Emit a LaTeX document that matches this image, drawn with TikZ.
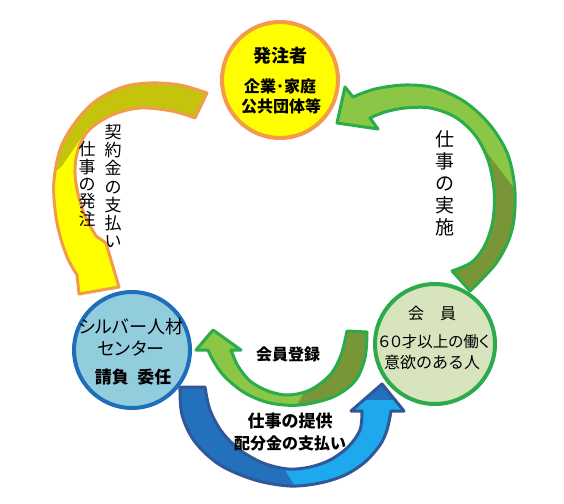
\documentclass[tikz,border=0pt]{standalone}
\usepackage{fontspec}
\setmainfont{Noto Sans CJK JP}
\newfontfamily\jp{Noto Sans CJK JP}
\newfontfamily\jpp{Noto Sans CJK JP}[RawFeature=+palt]
\definecolor{yel}{RGB}{255,255,0}
\definecolor{orl}{RGB}{242,155,75}
\definecolor{oliv}{RGB}{196,196,12}
\definecolor{grl}{RGB}{42,172,75}
\definecolor{lgr}{RGB}{140,198,70}
\definecolor{dgr}{RGB}{120,150,55}
\definecolor{dbl}{RGB}{35,112,188}
\definecolor{cbl}{RGB}{30,168,238}
\definecolor{bll}{RGB}{48,88,150}
\definecolor{bcf}{RGB}{146,205,222}
\definecolor{bcl}{RGB}{30,110,185}
\definecolor{gcf}{RGB}{215,228,190}
\definecolor{gcl}{RGB}{45,170,75}
\tikzset{
  circ/.style={circle, line width=4pt, minimum size=#1, inner sep=0pt},
  txt/.style={inner sep=0pt, align=center},
  outl/.style={line width=3pt, line join=round}
}
\newcommand\pA{plot[smooth,tension=0.55] coordinates {(207,93) (180,85) (150,83) (123,87) (97,100) (77,120) (61,147) (54,180) (55,210) (60,236) (68,259) (77,275)}
  -- (79,294) -- (119,287) -- (106,243)
  -- plot[smooth,tension=0.55] coordinates {(96,236) (86,218) (79,198) (75,173) (78,150) (89,130) (112,115) (140,108) (172,111) (195,118)} -- cycle}
\newcommand\pB{plot[smooth,tension=0.55] coordinates {(470,291) (497,262) (512,230) (515,192) (508,155) (490,125) (465,102) (435,88) (405,85) (375,89) (353,97)}
  -- (345,87) -- (337,123) -- (378,129)
  -- plot[smooth,tension=0.55] coordinates {(370,118) (385,112) (405,108) (430,108) (455,117) (475,135) (488,160) (494,190) (493,220) (485,245) (472,262) (452,271)} -- cycle}
\newcommand\pC{plot[smooth,tension=0.55] coordinates {(367,332) (365,358) (355,381) (333,397) (300,405) (270,403) (245,393) (225,377) (214,362) (208,350)}
  -- (196,350) -- (213,330) -- (241,350)
  -- plot[smooth,tension=0.55] coordinates {(231,350) (238,366) (250,381) (268,391) (288,395) (310,390) (330,375) (341,355) (347,331)} -- cycle}
\newcommand\pD{plot[smooth,tension=0.55] coordinates {(180,387) (182,415) (195,442) (220,465) (255,480) (290,486) (320,483) (345,475) (365,462) (380,445) (387,430) (391,411)}
  -- (404,411) -- (382,384) -- (351,411)
  -- plot[smooth,tension=0.55] coordinates {(362,411) (360,430) (348,447) (330,460) (310,467) (288,469) (263,463) (240,450) (222,432) (210,410) (205,387)} -- cycle}
\begin{document}
\begin{tikzpicture}[x=1pt,y=-1pt]
\useasboundingbox (0,0) rectangle (564,503);
% arrow 1 (yellow)
\begin{scope}
  \clip \pA;
  \fill[yel] (0,0) rectangle (564,503);
  \fill[oliv] (40,185) -- (62,166) -- (88,128) -- (230,128) -- (230,60) -- (40,60) -- cycle;
\end{scope}
\draw[outl, orl] \pA;
% arrow 2 (green right)
\begin{scope}
  \clip \pB;
  \fill[lgr] (0,0) rectangle (564,503);
  \fill[dgr] (462,120) -- (520,196) -- (520,300) -- (430,300) -- (430,120) -- cycle;
\end{scope}
\draw[outl, grl] \pB;
% arrow 3 (green bottom)
\begin{scope}
  \clip \pC;
  \fill[lgr] (0,0) rectangle (564,503);
  \fill[dgr] (292,415) -- (308,385) -- (330,300) -- (400,300) -- (400,415) -- cycle;
\end{scope}
\draw[outl, grl] \pC;
% arrow 4 (blue bottom)
\begin{scope}
  \clip \pD;
  \fill[dbl] (0,0) rectangle (564,503);
  \fill[cbl] (300,495) -- (282,465) -- (300,400) -- (420,400) -- (420,495) -- cycle;
\end{scope}
\draw[outl, bll] \pD;
% circles
\node[circ=116pt, draw=orl, fill=yel] (client) at (280,80) {};
\node[circ=116pt, draw=bcl, fill=bcf] (center) at (132,350) {};
\node[circ=120pt, draw=gcl, fill=gcf] (member) at (435,344) {};
% circle texts
\node[txt, font=\jp\bfseries\fontsize{18}{20}\selectfont] (c1) at (280,56) {発注者};
\node[txt, font=\jp\bfseries\fontsize{16}{20}\selectfont] (c2) at (280,86) {企業･家庭};
\node[txt, font=\jp\bfseries\fontsize{16}{20}\selectfont] (c3) at (281,106) {公共団体等};
\node[txt, font=\jpp\fontsize{18}{20}\selectfont] (s1) at (131,327) {シルバー人材};
\node[txt, font=\jpp\fontsize{18}{20}\selectfont] (s2) at (131,349) {センター};
\node[txt, font=\jp\bfseries\fontsize{17}{20}\selectfont] (s3) at (133,377) {請負\enspace 委任};
\node[txt, font=\jp\fontsize{16}{20}\selectfont] (m1) at (432,313) {会　員};
\node[txt, font=\jpp\fontsize{15.5}{20}\selectfont] (m2) at (434,342) {６０才以上の働く};
\node[txt, font=\jp\fontsize{16}{20}\selectfont] (m3) at (432,362) {意欲のある人};
% vertical texts
\node[txt, font=\jp\fontsize{17}{18.3}\selectfont] (v1) at (113,186) {契\\約\\金\\の\\支\\払\\い};
\node[txt, font=\jp\fontsize{17}{17.4}\selectfont] (v2) at (87,184) {仕\\事\\の\\発\\注};
\node[txt, font=\jp\fontsize{19}{22}\selectfont] (v3) at (445,183) {仕\\事\\の\\実\\施};
% arrow texts
\node[txt, font=\jp\bfseries\fontsize{16}{20}\selectfont] (a1) at (288,354) {会員登録};
\node[txt, font=\jp\bfseries\fontsize{17}{20}\selectfont] (a2) at (290,421) {仕事の提供};
\node[txt, font=\jp\bfseries\fontsize{16}{20}\selectfont] (a3) at (290,443) {配分金の支払い};
\end{tikzpicture}
\end{document}
